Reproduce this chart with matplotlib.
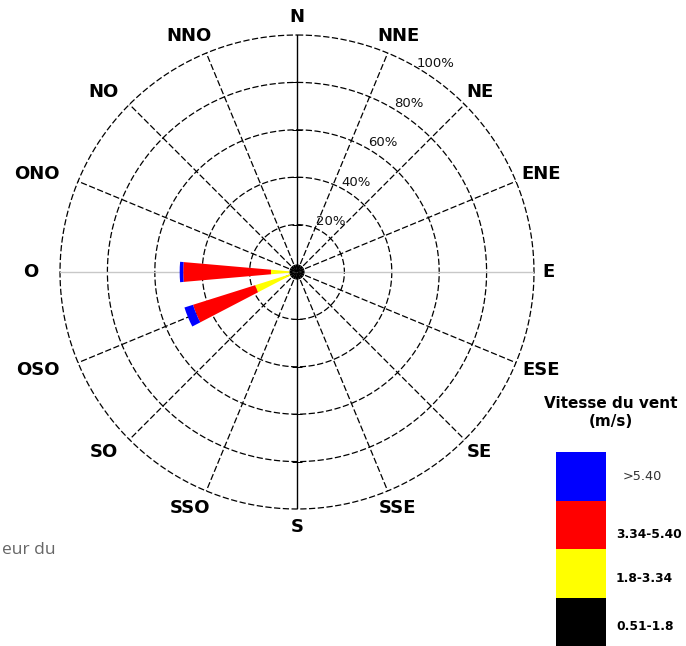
import matplotlib

matplotlib.use("Agg")
import matplotlib.pyplot as plt
import numpy as np
from matplotlib.patches import Rectangle

# 16 compass sectors, clockwise from north (French labels)
directions = ["N", "NNE", "NE", "ENE", "E", "ESE", "SE", "SSE",
              "S", "SSO", "SO", "OSO", "O", "ONO", "NO", "NNO"]

# frequency (%) per speed class and sector
speed_classes = ["0.51-1.8", "1.8-3.34", "3.34-5.40", ">5.40"]
class_colors = ["#000000", "#ffff00", "#ff0000", "#0000ff"]
freq_051_18 = [3.2, 3.2, 3.2, 3.2, 3.2, 3.2, 3.2, 3.2,
               3.2, 3.2, 3.2, 3.2, 3.2, 3.2, 3.2, 3.2]
freq_18_334 = [0, 0, 0, 0, 0, 0, 0, 0, 0, 0, 0, 15.3, 7.8, 0, 0, 0]
freq_334_540 = [0, 0, 0, 0, 0, 0, 0, 0, 0, 0, 0, 27.5, 37.0, 0, 0, 0]
freq_gt_540 = [0, 0, 0, 0, 0, 0, 0, 0, 0, 0, 0, 3.8, 1.5, 0, 0, 0]

rings = [20, 40, 60, 80, 100]
ring_labels = ["20%", "40%", "60%", "80%", "100%"]

W, H = 686, 646
fig = plt.figure(figsize=(W / 100, H / 100), dpi=100)

cx, cy, R = 297, 272, 237
ax = fig.add_axes([(cx - R) / W, (H - cy - R) / H, 2 * R / W, 2 * R / H],
                  projection="polar")
ax.set_theta_zero_location("N")
ax.set_theta_direction(-1)
ax.set_ylim(0, 100)
ax.grid(False)
ax.set_xticks([])
ax.set_yticks([])
ax.spines["polar"].set_visible(False)
ax.patch.set_alpha(0)

theta = np.deg2rad(np.arange(len(directions)) * 22.5)
dash = (0, (5, 2))

# rings
circ = np.linspace(0, 2 * np.pi, 400)
for r in rings:
    ax.plot(circ, np.full_like(circ, r), color="black", lw=0.9, ls=dash,
            zorder=1, clip_on=False)

# spokes
for name, t in zip(directions, theta):
    if name in ("N", "S"):
        ax.plot([t, t], [0, 100], color="black", lw=1.0, zorder=1)
    elif name in ("E", "O"):
        ax.plot([t, t], [0, 100], color="#c8c8c8", lw=1.0, zorder=1)
    else:
        ax.plot([t, t], [0, 100], color="black", lw=0.9, ls=dash, zorder=1)
for t in (0, np.pi):
    ax.plot(np.full(4, t), rings[:4], ls="none", marker="_", ms=7,
            mew=0.7, color="black", zorder=1)

# stacked bars
series = [freq_051_18, freq_18_334, freq_334_540, freq_gt_540]
bottom = np.zeros(len(directions))
for i, (vals, col) in enumerate(zip(series, class_colors)):
    width = np.deg2rad(22.5) if i == 0 else np.deg2rad(10)
    ax.bar(theta, vals, width=width, bottom=bottom, color=col,
           edgecolor="none", zorder=3)
    bottom = bottom + np.array(vals)

for r, lab in zip(rings, ring_labels):
    ax.text(np.deg2rad(33.5), r + 5.5, lab, ha="center", va="center",
            fontsize=9.5, color="#111111", zorder=4, clip_on=False)

# overlay in pixel coordinates (direction labels + legend)
lax = fig.add_axes([0, 0, 1, 1])
lax.set_xlim(0, W)
lax.set_ylim(H, 0)
lax.set_axis_off()
lax.patch.set_alpha(0)

dir_texts = [lax.text(0, 0, name, ha="center", va="center", fontsize=13,
                      fontweight="bold", family="DejaVu Sans")
             for name in directions]
fig.canvas.draw()
for txt, t in zip(dir_texts, theta):
    w = txt.get_window_extent().width
    ux, uy = np.sin(t), np.cos(t)
    txt.set_position((cx - 7 * abs(ux) + (252 + w / 2) * ux, cy - 255 * uy))

lax.text(611, 403, "Vitesse du vent", ha="center", va="center",
         fontsize=11, fontweight="bold", family="DejaVu Sans")
lax.text(611, 421, "(m/s)", ha="center", va="center",
         fontsize=11, fontweight="bold", family="DejaVu Sans")
box_top = 452
box_h = 48.5
label_y = [477, 534, 578, 626]
for k, (lab, col) in enumerate(zip(speed_classes[::-1], class_colors[::-1])):
    lax.add_patch(Rectangle((556, box_top + k * box_h), 50, box_h,
                            facecolor=col, edgecolor="none"))
    lax.text(616 if k else 623, label_y[k], lab, ha="left", va="center",
             fontsize=9.3 if k == 0 else 8.8, family="DejaVu Sans",
             color="#333333" if k == 0 else "black",
             fontweight="normal" if k == 0 else "bold")

lax.text(2, 550, "eur du", ha="left", va="center", fontsize=12.5,
         color="#666666", family="Open Sans")

fig.savefig("out.png", dpi=100, facecolor="white")
